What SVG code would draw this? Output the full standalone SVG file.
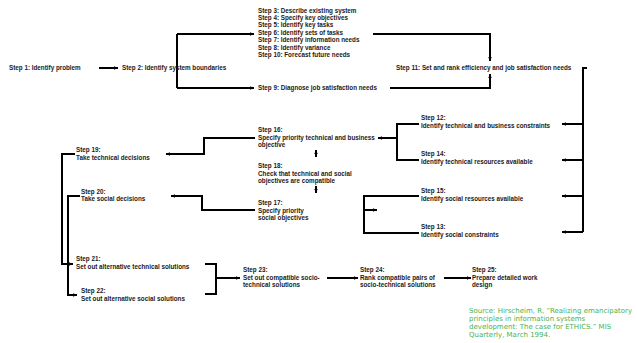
<svg xmlns="http://www.w3.org/2000/svg" width="637" height="343" viewBox="0 0 637 343">
<defs>
<marker id="ah" markerUnits="userSpaceOnUse" markerWidth="4" markerHeight="3.5" viewBox="0 0 4 3.5" refX="4" refY="1.75" orient="auto">
<path d="M0,0 L4,1.75 L0,3.5 z" fill="#000"/>
</marker>
<style>
.t{font-family:"Liberation Sans",Arial,sans-serif;font-size:6.3px;font-weight:bold;fill:#1a1a1a}
.src{font-family:"DejaVu Sans",Verdana,sans-serif;font-size:7px;fill:#4cb04c}
.c path{fill:none;stroke:#000;stroke-width:2}
.c .a{marker-end:url(#ah)}
</style>
</defs>
<rect width="637" height="343" fill="#fff"/>
<g id="connectors" class="c">
<path class="a" d="M99,68 H118"/>
<path d="M177,34 V88"/>
<path class="a" d="M177,34 H254"/>
<path class="a" d="M177,88 H254"/>
<path class="a" d="M373,34 H490 V61"/>
<path class="a" d="M390,88 H490 V74"/>
<path d="M587,68 H583 V232"/>
<path class="a" d="M583,124 H562"/>
<path class="a" d="M583,160 H562"/>
<path class="a" d="M583,196 H562"/>
<path class="a" d="M583,232 H562"/>
<path d="M419,124 H397 V160 H419"/>
<path class="a" d="M397,138 H378"/>
<path d="M419,196 H364 V233 H419"/>
<path class="a" d="M364,210 H377"/>
<path class="a" d="M255,138 H204 V154 H166"/>
<path class="a" d="M255,210 H202 V196 H171"/>
<path class="a" d="M316,157 V150"/>
<path class="a" d="M316,186 V193"/>
<path class="a" d="M75,154 H62 V264 H73"/>
<path class="a" d="M80,196 H68 V295 H77"/>
<path d="M205,264 H216 V294 H205"/>
<path class="a" d="M216,278 H240"/>
<path class="a" d="M327,278 H358"/>
<path class="a" d="M444,278 H471"/>
</g>
<g id="step1"><text class="t" x="9" y="70">Step 1: Identify problem</text></g>
<g id="step2"><text class="t" x="122" y="70">Step 2: Identify system boundaries</text></g>
<g id="steps3to10">
<text class="t" x="258" y="12.5">Step 3: Describe existing system</text>
<text class="t" x="258" y="19.9">Step 4: Specify key objectives</text>
<text class="t" x="258" y="27.3">Step 5: Identify key tasks</text>
<text class="t" x="258" y="34.7">Step 6: Identify sets of tasks</text>
<text class="t" x="258" y="42.1">Step 7: Identify information needs</text>
<text class="t" x="258" y="49.5">Step 8: Identify variance</text>
<text class="t" x="258" y="56.9">Step 10: Forecast future needs</text>
</g>
<g id="step9"><text class="t" x="258" y="90">Step 9: Diagnose job satisfaction needs</text></g>
<g id="step11"><text class="t" x="396" y="70">Step 11: Set and rank efficiency and job satisfaction needs</text></g>
<g id="step12"><text class="t" x="421" y="120">Step 12:</text><text class="t" x="421" y="128">Identify technical and business constraints</text></g>
<g id="step14"><text class="t" x="421" y="156">Step 14:</text><text class="t" x="421" y="164">Identify technical resources available</text></g>
<g id="step15"><text class="t" x="421" y="193">Step 15:</text><text class="t" x="421" y="201">Identify social resources available</text></g>
<g id="step13"><text class="t" x="421" y="229">Step 13:</text><text class="t" x="421" y="237">Identify social constraints</text></g>
<g id="step16"><text class="t" x="258" y="132">Step 16:</text><text class="t" x="258" y="139.5">Specify priority technical and business</text><text class="t" x="258" y="147">objective</text></g>
<g id="step18"><text class="t" x="258" y="168">Step 18:</text><text class="t" x="258" y="175.5">Check that technical and social</text><text class="t" x="258" y="183">objectives are compatible</text></g>
<g id="step17"><text class="t" x="258" y="205">Step 17:</text><text class="t" x="258" y="212.5">Specify priority</text><text class="t" x="258" y="220">social objectives</text></g>
<g id="step19"><text class="t" x="76" y="152">Step 19:</text><text class="t" x="76" y="159.5">Take technical decisions</text></g>
<g id="step20"><text class="t" x="81" y="194">Step 20:</text><text class="t" x="81" y="201">Take social decisions</text></g>
<g id="step21"><text class="t" x="76" y="261">Step 21:</text><text class="t" x="76" y="268.5">Set out alternative technical solutions</text></g>
<g id="step22"><text class="t" x="81" y="293">Step 22:</text><text class="t" x="81" y="300.5">Set out alternative social solutions</text></g>
<g id="step23"><text class="t" x="243" y="272">Step 23:</text><text class="t" x="243" y="279.5">Set out compatible socio-</text><text class="t" x="243" y="287">technical solutions</text></g>
<g id="step24"><text class="t" x="360" y="272">Step 24:</text><text class="t" x="360" y="279.5">Rank compatible pairs of</text><text class="t" x="360" y="287">socio-technical solutions</text></g>
<g id="step25"><text class="t" x="472" y="272">Step 25:</text><text class="t" x="472" y="279.5">Prepare detailed work</text><text class="t" x="472" y="287">design</text></g>
<g id="source">
<text class="src" x="469" y="313">Source:  Hirscheim, R, “Realizing emancipatory</text>
<text class="src" x="469" y="321">principles in information systems</text>
<text class="src" x="469" y="329">development:  The case for ETHICS.” MIS</text>
<text class="src" x="469" y="337">Quarterly, March 1994.</text>
</g>
</svg>
